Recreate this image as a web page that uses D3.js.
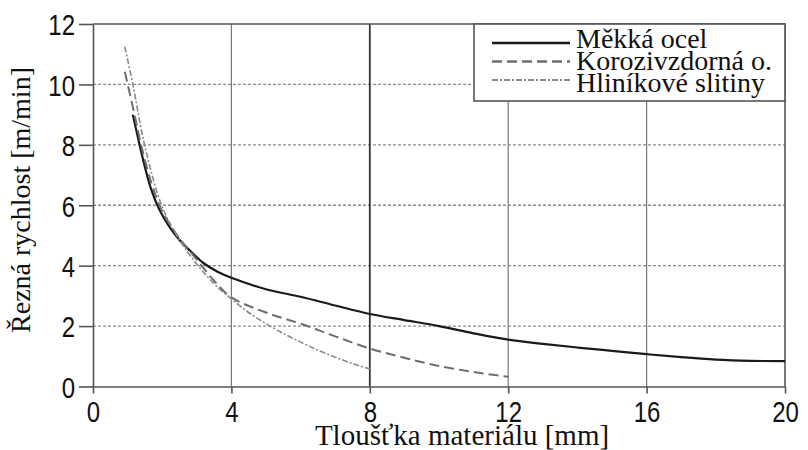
<!DOCTYPE html>
<html lang="cs">

<head>
    <meta charset="UTF-8"/>
    <title>Řezná rychlost</title>
    <script src="https://d3js.org/d3.v7.min.js" charset="utf-8"></script>

    <style type="text/css">
        body {
            margin: 0;
            background: #fff;
        }

        .tick text {
            font-family: "Liberation Sans", Arial, sans-serif;
            font-size: 30px;
            fill: #111;
        }

        .title {
            font-family: "Liberation Serif", "Times New Roman", serif;
            font-size: 28px;
            fill: #111;
        }

        .legend text {
            font-family: "Liberation Serif", "Times New Roman", serif;
            font-size: 28px;
            fill: #111;
        }

        path.line {
            fill: none;
        }
    </style>
</head>

<body>

<div id="chart"></div>
<script>
    // data (thickness mm -> cutting speed m/min)
    var seriesNames = ["Měkká ocel", "Korozivzdorná o.", "Hliníkové slitiny"];

    var mildX = [1.15, 1.45, 1.66, 1.9, 2.2, 2.5, 2.8, 3.2, 3.6, 4, 5, 6, 7, 8, 9, 10, 11, 12, 13, 14, 15, 16, 17, 18, 19, 20];
    var mildY = [9.0, 7.5, 6.6, 5.9, 5.3, 4.85, 4.5, 4.08, 3.8, 3.6, 3.22, 2.97, 2.68, 2.4, 2.2, 2.0, 1.76, 1.55, 1.41, 1.29, 1.18, 1.07, 0.97, 0.89, 0.85, 0.84];

    var stainX = [0.92, 1.2, 1.4, 1.7, 2, 2.5, 3, 3.5, 4, 5, 6, 7, 8, 9, 10, 11, 12];
    var stainY = [10.42, 9.0, 7.95, 6.7, 5.8, 4.9, 4.2, 3.5, 2.95, 2.45, 2.08, 1.66, 1.26, 0.95, 0.68, 0.48, 0.32];

    var aluX = [0.92, 1.16, 1.5, 2, 2.5, 3, 3.5, 4, 4.5, 5, 5.5, 6, 6.5, 7, 7.5, 8];
    var aluY = [11.25, 9.95, 7.95, 5.95, 4.85, 4.05, 3.4, 2.9, 2.45, 2.08, 1.76, 1.47, 1.2, 0.97, 0.76, 0.58];

    var xTicks = [0, 4, 8, 12, 16, 20];
    var yTicks = [0, 2, 4, 6, 8, 10, 12];

    var series = [
        {name: seriesNames[0], xs: mildX, ys: mildY, color: "#1a1a1a", width: 2.2, dash: null},
        {name: seriesNames[1], xs: stainX, ys: stainY, color: "#6e6e6e", width: 2, dash: "10,5"},
        {name: seriesNames[2], xs: aluX, ys: aluY, color: "#8a8a8a", width: 1.6, dash: "6,2,2,2"}
    ];

    // plot area
    var pLeft = 93, pRight = 785, pTop = 24, pBottom = 386.5;

    var svg = d3.select("#chart")
        .append("svg")
        .attr("width", 808)
        .attr("height", 450);

    var x = d3.scaleLinear().domain([0, 20]).range([pLeft, pRight]);
    var y = d3.scaleLinear().domain([0, 12]).range([pBottom, pTop]);

    // horizontal dotted grid
    svg.append("g")
        .selectAll("line")
        .data(yTicks.filter(function (d) { return d > 0 && d < 12; }))
        .enter()
        .append("line")
        .attr("x1", pLeft).attr("x2", pRight)
        .attr("y1", function (d) { return y(d); })
        .attr("y2", function (d) { return y(d); })
        .attr("stroke", "#8c8c8c")
        .attr("stroke-width", 1.3)
        .attr("stroke-dasharray", "3,2");

    // vertical grid
    svg.append("g")
        .selectAll("line")
        .data(xTicks.filter(function (d) { return d > 0 && d < 20; }))
        .enter()
        .append("line")
        .attr("y1", pTop).attr("y2", pBottom)
        .attr("x1", function (d) { return x(d); })
        .attr("x2", function (d) { return x(d); })
        .attr("stroke", function (d) { return d === 8 ? "#333" : "#777"; })
        .attr("stroke-width", function (d) { return d === 8 ? 1.8 : 1.2; });

    // frame top + right
    svg.append("path")
        .attr("d", "M" + pLeft + "," + pTop + "H" + pRight + "V" + pBottom)
        .attr("fill", "none")
        .attr("stroke", "#555")
        .attr("stroke-width", 1.6);

    // X axis
    var xAxis = svg.append("g")
        .attr("transform", "translate(0," + pBottom + ")")
        .call(d3.axisBottom(x).tickValues(xTicks).tickSize(7).tickSizeOuter(0));
    xAxis.select(".domain").attr("stroke", "#555").attr("stroke-width", 1.6);
    xAxis.selectAll(".tick line").attr("stroke", "#555").attr("stroke-width", 1.6);
    xAxis.selectAll(".tick text")
        .attr("dy", null)
        .attr("y", 0)
        .attr("transform", "translate(0,35) scale(0.8,1)");

    // Y axis
    var yAxis = svg.append("g")
        .attr("transform", "translate(" + pLeft + ",0)")
        .call(d3.axisLeft(y).tickValues(yTicks).tickSize(14).tickSizeOuter(0));
    yAxis.select(".domain").attr("stroke", "#555").attr("stroke-width", 1.6);
    yAxis.selectAll(".tick line").attr("stroke", "#555").attr("stroke-width", 1.6);
    yAxis.selectAll(".tick text")
        .attr("x", 0)
        .attr("dy", "0.36em")
        .attr("transform", "translate(-18,0) scale(0.8,1)");

    // curves
    var line = d3.line()
        .x(function (d) { return x(d[0]); })
        .y(function (d) { return y(d[1]); })
        .curve(d3.curveCatmullRom.alpha(0.5));

    series.forEach(function (s) {
        svg.append("path")
            .datum(d3.zip(s.xs, s.ys))
            .attr("class", "line")
            .attr("d", line)
            .attr("stroke", s.color)
            .attr("stroke-width", s.width)
            .attr("stroke-dasharray", s.dash);
    });

    // legend box in top right corner
    var legend = svg.append("g").attr("class", "legend");
    legend.append("rect")
        .attr("x", 474).attr("y", pTop)
        .attr("width", pRight - 474).attr("height", 101 - pTop)
        .attr("fill", "#fff")
        .attr("stroke", "#555")
        .attr("stroke-width", 1.6);

    series.forEach(function (s, i) {
        legend.append("line")
            .attr("x1", 492).attr("x2", 570)
            .attr("y1", 43 + i * 18.5).attr("y2", 43 + i * 18.5)
            .attr("stroke", s.color)
            .attr("stroke-width", s.width + 0.4)
            .attr("stroke-dasharray", s.dash);
        legend.append("text")
            .attr("x", 576)
            .attr("y", 48 + i * 22)
            .text(s.name);
    });

    // axis titles
    svg.append("text")
        .attr("class", "title")
        .attr("x", 462)
        .attr("y", 445)
        .attr("text-anchor", "middle")
        .style("font-size", "29px")
        .text("Tloušťka materiálu [mm]");

    svg.append("text")
        .attr("class", "title")
        .attr("transform", "translate(30,200) rotate(-90)")
        .attr("text-anchor", "middle")
        .text("Řezná rychlost [m/min]");
</script>
</body>

</html>
